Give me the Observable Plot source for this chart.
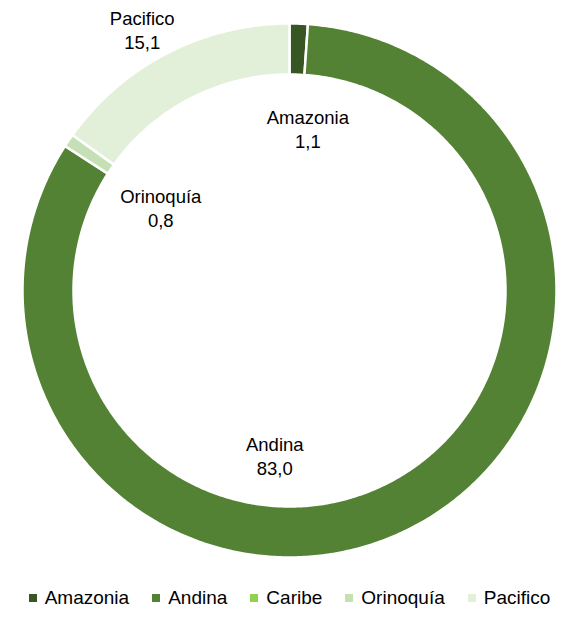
<!DOCTYPE html>
<html><head><meta charset="utf-8">
<script src="https://cdn.jsdelivr.net/npm/d3@7"></script>
<script src="https://cdn.jsdelivr.net/npm/@observablehq/plot@0.6"></script>
<style>
body{margin:0;background:#fff;font-family:"Liberation Sans",Arial,sans-serif;}
#legend{display:flex;justify-content:center;align-items:center;font-size:19px;color:#000;height:24px;line-height:24px;margin-top:6px;width:564px;padding-left:15px;box-sizing:border-box;}
.item{display:flex;align-items:center;margin:0 11.5px;}
.sw{width:8px;height:8px;margin-right:8px;}
</style></head><body><div id="chart"></div><div id="legend"></div>
<script>
// ---- data ----
const categories = ["Amazonia", "Andina", "Caribe", "Orinoquía", "Pacifico"];
const values = [1.1, 83.0, 0.0, 0.8, 15.1];
const colors = ["#375623", "#548235", "#92D050", "#C5E0B4", "#E2F0D9"];

// ---- layout ----
const W = 564, H = 580, cx = 289, cy = 290;
const R = 267, r0 = 216;
const labelShift = { "Amazonia": [10, 79], "Andina": [-123, -51], "Orinoquía": [71, 53], "Pacifico": [-37, -46] };

const data = categories.map((c, i) => ({ cat: c, value: values[i], color: colors[i] }));
const arcs = d3.pie().sort(null).value(d => d.value)(data);

const pts = [];
for (const a of arcs) {
  if (a.endAngle - a.startAngle <= 0) continue;
  const n = Math.max(4, Math.ceil((a.endAngle - a.startAngle) / 0.01));
  for (let k = 0; k <= n; k++) {
    const t = a.startAngle + (a.endAngle - a.startAngle) * k / n;
    pts.push({ cat: a.data.cat, color: a.data.color, x: R * Math.sin(t), y: R * Math.cos(t) });
  }
  for (let k = n; k >= 0; k--) {
    const t = a.startAngle + (a.endAngle - a.startAngle) * k / n;
    pts.push({ cat: a.data.cat, color: a.data.color, x: r0 * Math.sin(t), y: r0 * Math.cos(t) });
  }
}

const fmt = v => d3.format(".1f")(v).replace(".", ",");
const labels = arcs.filter(a => a.data.value > 0).map(a => {
  const m = (a.startAngle + a.endAngle) / 2, rm = (R + r0) / 2;
  const s = labelShift[a.data.cat] || [0, 0];
  return { text: a.data.cat + "\n" + fmt(a.data.value), x: rm * Math.sin(m) + s[0], y: rm * Math.cos(m) - s[1] };
});

const chart = Plot.plot({
  width: W, height: H,
  margin: 0,
  x: { domain: [-cx, W - cx], axis: null },
  y: { domain: [-(H - cy), cy], axis: null },
  color: { type: "identity" },
  marks: [
    Plot.line(pts, { x: "x", y: "y", z: "cat", fill: "color", stroke: "white", strokeWidth: 2.5, curve: "linear-closed" }),
    Plot.text(labels, { x: "x", y: "y", text: "text", fontSize: 18.5, lineHeight: 1.3, fill: "#000", fontFamily: "Liberation Sans, Arial, sans-serif" })
  ]
});
document.getElementById("chart").appendChild(chart);

const lg = document.getElementById("legend");
categories.forEach((c, i) => {
  const it = document.createElement("div"); it.className = "item";
  const sw = document.createElement("span"); sw.className = "sw"; sw.style.background = colors[i];
  const tx = document.createElement("span"); tx.textContent = c;
  it.appendChild(sw); it.appendChild(tx); lg.appendChild(it);
});
</script></body></html>
